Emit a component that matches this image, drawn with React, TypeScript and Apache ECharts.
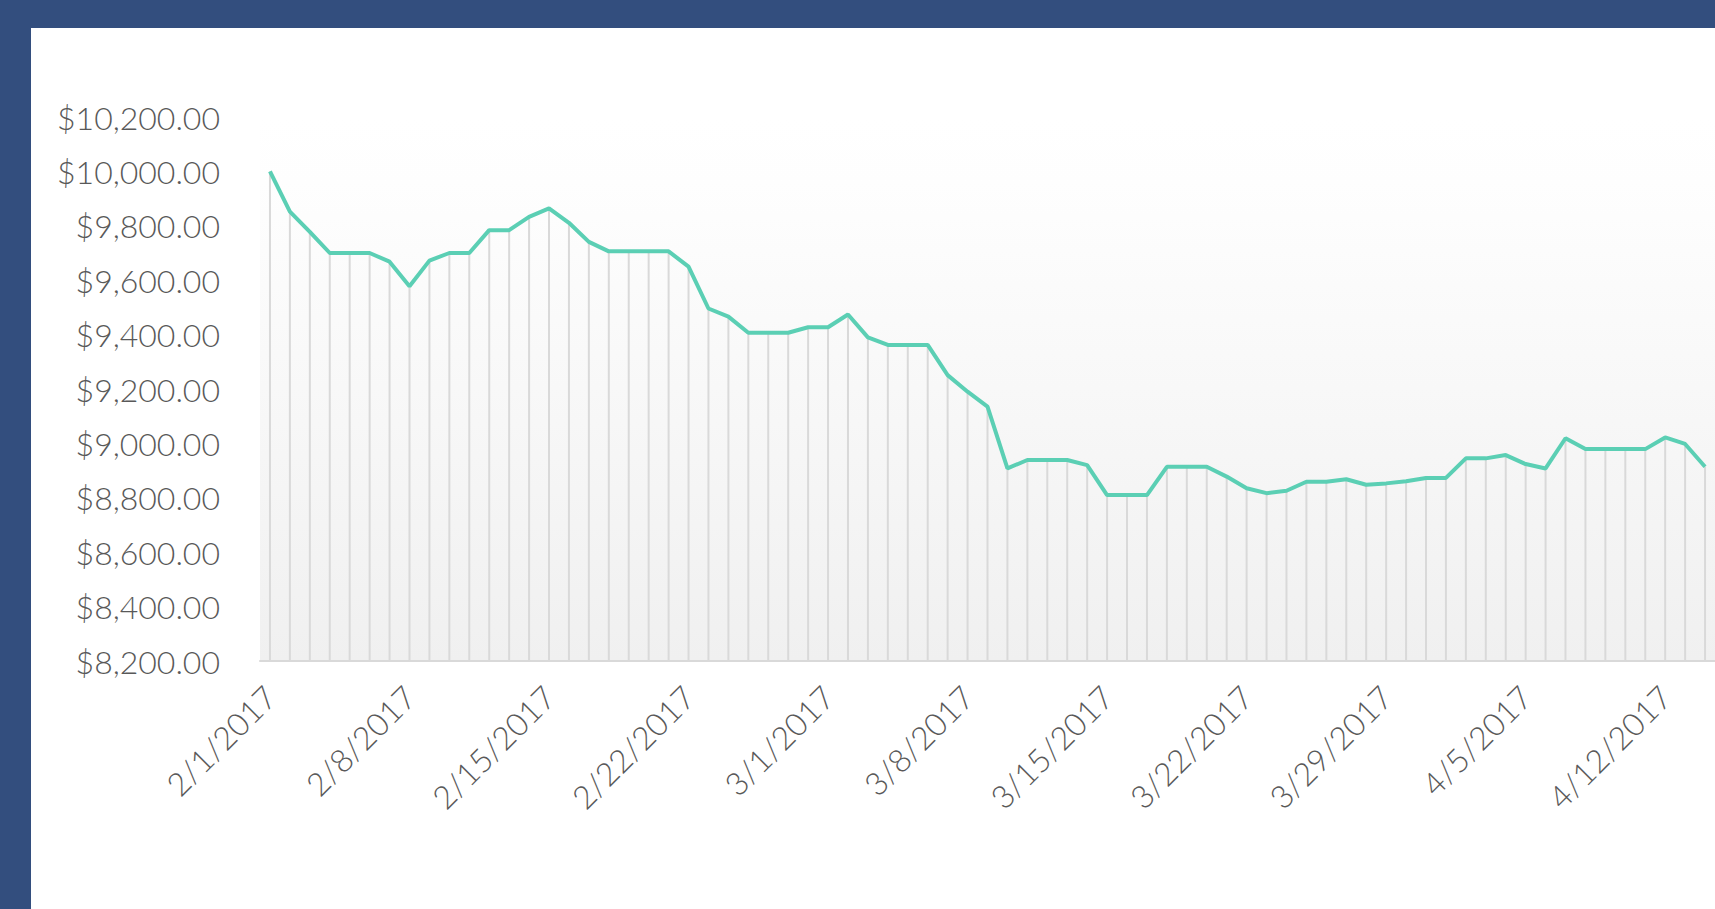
import React, { useEffect, useRef } from "react";
import * as echarts from "echarts";

const dates: string[] = [
  "2/1/2017", "2/2/2017", "2/3/2017", "2/4/2017", "2/5/2017", "2/6/2017", "2/7/2017",
  "2/8/2017", "2/9/2017", "2/10/2017", "2/11/2017", "2/12/2017", "2/13/2017", "2/14/2017",
  "2/15/2017", "2/16/2017", "2/17/2017", "2/18/2017", "2/19/2017", "2/20/2017", "2/21/2017",
  "2/22/2017", "2/23/2017", "2/24/2017", "2/25/2017", "2/26/2017", "2/27/2017", "2/28/2017",
  "3/1/2017", "3/2/2017", "3/3/2017", "3/4/2017", "3/5/2017", "3/6/2017", "3/7/2017",
  "3/8/2017", "3/9/2017", "3/10/2017", "3/11/2017", "3/12/2017", "3/13/2017", "3/14/2017",
  "3/15/2017", "3/16/2017", "3/17/2017", "3/18/2017", "3/19/2017", "3/20/2017", "3/21/2017",
  "3/22/2017", "3/23/2017", "3/24/2017", "3/25/2017", "3/26/2017", "3/27/2017", "3/28/2017",
  "3/29/2017", "3/30/2017", "3/31/2017", "4/1/2017", "4/2/2017", "4/3/2017", "4/4/2017",
  "4/5/2017", "4/6/2017", "4/7/2017", "4/8/2017", "4/9/2017", "4/10/2017", "4/11/2017",
  "4/12/2017", "4/13/2017", "4/14/2017",
];

const balances: number[] = [
  10000, 9852, 9778, 9700, 9700, 9700, 9668,
  9578, 9672, 9700, 9700, 9784, 9784, 9833,
  9864, 9811, 9741, 9706, 9706, 9706, 9706,
  9650, 9496, 9466, 9407, 9407, 9407, 9427,
  9427, 9474, 9390, 9362, 9362, 9362, 9251,
  9190, 9135, 8908, 8939, 8939, 8939, 8920,
  8810, 8810, 8810, 8914, 8914, 8914, 8878,
  8835, 8817, 8826, 8859, 8859, 8868, 8848,
  8853, 8861, 8873, 8873, 8945, 8945, 8957,
  8924, 8908, 9019, 8979, 8979, 8979, 8979,
  9022, 8998, 8914,
];

const yMin = 8200;
const yMax = 10200;
const yStep = 200;

const FONT = "Lato, 'Open Sans', sans-serif";

function money(v: number): string {
  const s = Math.round(v).toString().replace(/\B(?=(\d{3})+(?!\d))/g, ",");
  return "$" + s + ".00";
}

export default function App() {
  const ref = useRef<HTMLDivElement>(null);

  useEffect(() => {
    if (!ref.current) return;
    const chart = echarts.init(ref.current, undefined, { renderer: "svg" });
    chart.setOption({
      animation: false,
      backgroundColor: "#ffffff",
      grid: {
        left: 229,
        top: 89,
        right: 0,
        bottom: 248,
        show: true,
        borderWidth: 0,
        backgroundColor: new echarts.graphic.LinearGradient(0, 0, 0, 1, [
          { offset: 0, color: "#ffffff" },
          { offset: 0.12, color: "#fefefe" },
          { offset: 1, color: "#f0f0f0" },
        ]),
      },
      xAxis: {
        type: "category",
        data: dates,
        boundaryGap: true,
        axisLine: { show: true, lineStyle: { color: "#d9d9d9", width: 2 } },
        axisTick: { show: false },
        splitLine: { show: false },
        axisLabel: {
          interval: 6,
          rotate: 45,
          margin: 30,
          color: "#595959",
          fontSize: 32,
          fontWeight: 300,
          fontFamily: FONT,
        },
      },
      yAxis: {
        type: "value",
        min: yMin,
        max: yMax,
        interval: yStep,
        axisLine: { show: false },
        axisTick: { show: false },
        splitLine: { show: false },
        axisLabel: {
          margin: 40,
          color: "#595959",
          fontSize: 32,
          fontWeight: 300,
          fontFamily: FONT,
          formatter: (v: number) => money(v),
        },
      },
      series: [
        {
          type: "bar",
          data: balances,
          barWidth: 2,
          itemStyle: { color: "#d9d9d9" },
          z: 1,
        },
        {
          type: "line",
          data: balances,
          showSymbol: false,
          lineStyle: { color: "#5bcfb4", width: 4 },
          itemStyle: { color: "#5bcfb4" },
          z: 3,
        },
      ],
    });
    return () => chart.dispose();
  }, []);

  return (
    <div
      style={{
        position: "fixed",
        left: 0,
        top: 0,
        width: 1715,
        height: 909,
        background: "#334e7e",
      }}
    >
      <div
        ref={ref}
        style={{
          position: "absolute",
          left: 31,
          top: 28,
          width: 1684,
          height: 881,
          background: "#ffffff",
        }}
      />
    </div>
  );
}
